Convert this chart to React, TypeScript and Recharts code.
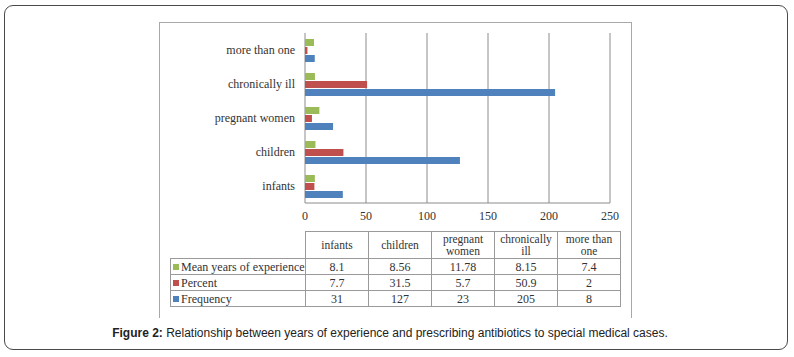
import { BarChart, Bar, XAxis, YAxis, CartesianGrid } from "recharts";

const categories = ["infants", "children", "pregnant women", "chronically ill", "more than one"];
const meanYears = [8.1, 8.56, 11.78, 8.15, 7.4];
const percent = [7.7, 31.5, 5.7, 50.9, 2];
const frequency = [31, 127, 23, 205, 8];
const xTicks = [0, 50, 100, 150, 200, 250];

const tableHeaders = ["infants", "children", "pregnant women", "chronically ill", "more than one"];
const seriesRows = [
  { label: "Mean years of experience", color: "#9BBB59", values: meanYears },
  { label: "Percent", color: "#C0504D", values: percent },
  { label: "Frequency", color: "#4F81BD", values: frequency },
];

const data = categories.map((name, i) => ({
  name,
  mean: meanYears[i],
  percent: percent[i],
  frequency: frequency[i],
}));

const SERIF = "'Liberation Serif', 'DejaVu Serif', serif";
const LINE = "1px solid #9a9a9a";

export default function App() {
  const cell = { border: LINE, padding: 0, textAlign: "center" as const, color: "#333" };

  return (
    <div style={{ position: "absolute", left: 0, top: 0, width: 794, height: 357, background: "#fff" }}>
      {/* outer rounded box */}
      <div
        style={{
          position: "absolute",
          left: 4,
          top: 5,
          width: 782,
          height: 343,
          border: "1.5px solid #4a4a4a",
          borderRadius: 9,
        }}
      />
      {/* chart frame, open at the bottom */}
      <div
        style={{
          position: "absolute",
          left: 159,
          top: 22,
          width: 471,
          height: 295,
          borderLeft: "1px solid #a8a8a8",
          borderTop: "1px solid #a8a8a8",
          borderRight: "1px solid #a8a8a8",
        }}
      />

      <div style={{ position: "absolute", left: 0, top: 0 }}>
        <BarChart
          width={794}
          height={225}
          data={data}
          layout="vertical"
          margin={{ top: 33, right: 184, bottom: 0, left: 0 }}
          barSize={7}
          barGap={1}
        >
          <CartesianGrid horizontal={false} stroke="#8c8c8c" />
          <XAxis
            type="number"
            domain={[0, 250]}
            ticks={xTicks}
            height={22}
            axisLine={{ stroke: "#8c8c8c" }}
            tickLine={false}
            tick={{ fontSize: 12, fill: "#333", fontFamily: SERIF }}
          />
          <YAxis
            type="category"
            dataKey="name"
            reversed
            width={305}
            axisLine={false}
            tickLine={false}
            tickMargin={4}
            tick={{ fontSize: 12, fill: "#333", fontFamily: SERIF }}
          />
          <Bar dataKey="mean" fill="#9BBB59" isAnimationActive={false} />
          <Bar dataKey="percent" fill="#C0504D" isAnimationActive={false} />
          <Bar dataKey="frequency" fill="#4F81BD" isAnimationActive={false} />
        </BarChart>
      </div>

      {/* data table */}
      <table
        style={{
          position: "absolute",
          left: 170,
          top: 231,
          borderCollapse: "collapse",
          tableLayout: "fixed",
          width: 450,
          fontFamily: SERIF,
          fontSize: 12,
        }}
      >
        <colgroup>
          <col style={{ width: 135 }} />
          {tableHeaders.map((h) => (
            <col key={h} style={{ width: 63 }} />
          ))}
        </colgroup>
        <tbody>
          <tr style={{ height: 27 }}>
            <td style={{ borderBottom: LINE, padding: 0 }} />
            {tableHeaders.map((h) => (
              <td key={h} style={{ ...cell, lineHeight: "12px", fontSize: 11.5 }}>
                {h}
              </td>
            ))}
          </tr>
          {seriesRows.map((row) => (
            <tr key={row.label} style={{ height: 16 }}>
              <td style={{ ...cell, textAlign: "left", lineHeight: "14px", whiteSpace: "nowrap" }}>
                <span
                  style={{
                    display: "inline-block",
                    width: 6,
                    height: 6,
                    background: row.color,
                    margin: "0 2px 1px 2px",
                  }}
                />
                {row.label}
              </td>
              {row.values.map((v, i) => (
                <td key={i} style={{ ...cell, lineHeight: "14px" }}>
                  {v}
                </td>
              ))}
            </tr>
          ))}
        </tbody>
      </table>

      {/* caption */}
      <div
        style={{
          position: "absolute",
          left: 0,
          top: 326,
          width: 780,
          textAlign: "center",
          fontFamily: "'Liberation Sans', Arial, sans-serif",
          fontSize: 12,
          lineHeight: "14px",
          color: "#222",
        }}
      >
        <b>Figure 2:</b> Relationship between years of experience and prescribing antibiotics to special medical cases.
      </div>
    </div>
  );
}
